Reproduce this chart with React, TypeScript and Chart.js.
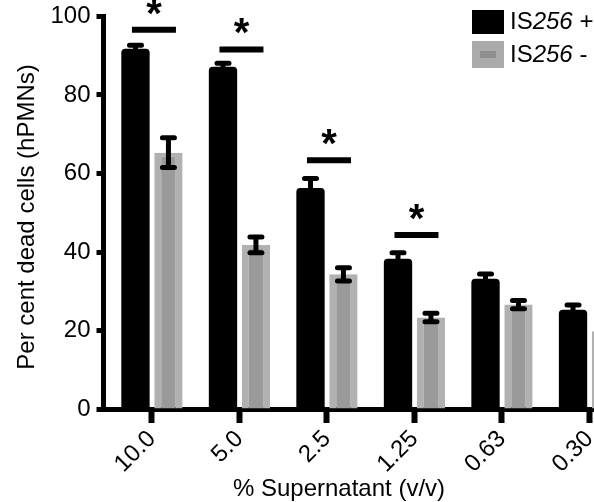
import React, { useEffect, useRef } from 'react';
import { Chart, registerables } from 'chart.js';

Chart.register(...registerables);

const FONT = "'Liberation Sans', Arial, Helvetica, sans-serif";

const categories = ['10.0', '5.0', '2.5', '1.25', '0.63', '0.30'];
const plusValues = [91.8, 87.2, 56.3, 38.3, 33.2, 25.3];
const plusErrors = [0.9, 0.9, 2.4, 1.5, 1.2, 1.2];
const minusValues = [65.3, 41.8, 34.3, 23.3, 26.6, 19.8];
const minusErrors = [3.8, 2.0, 1.7, 1.1, 1.05, 1.0];
const sigLevels: (number | null)[] = [96.6, 91.6, 63.4, 44.3, null, null];
const yTickValues = [0, 20, 40, 60, 80, 100];
const seriesNames = [
  ['IS', '256', ' +'],
  ['IS', '256', ' -'],
];
const yTitle = 'Per cent dead cells (hPMNs)';
const xTitle = '% Supernatant (v/v)';

const overlayPlugin = {
  id: 'overlay',
  afterDatasetsDraw(chart: any) {
    const ctx = chart.ctx as CanvasRenderingContext2D;
    const xs = chart.scales.x;
    const ys = chart.scales.y;
    const vals = [plusValues, minusValues];
    const errs = [plusErrors, minusErrors];
    ctx.save();
    ctx.strokeStyle = '#000';
    ctx.lineWidth = 5;
    ctx.lineCap = 'round';
    [0, 1].forEach((d) => {
      const meta = chart.getDatasetMeta(d);
      meta.data.forEach((bar: any, i: number) => {
        const x = bar.x;
        const yt = ys.getPixelForValue(vals[d][i] + errs[d][i]);
        const yb = ys.getPixelForValue(vals[d][i] - errs[d][i]);
        ctx.beginPath();
        ctx.moveTo(x, yt);
        ctx.lineTo(x, yb);
        ctx.moveTo(x - 6, yt);
        ctx.lineTo(x + 6, yt);
        ctx.moveTo(x - 6, yb);
        ctx.lineTo(x + 6, yb);
        ctx.stroke();
      });
    });
    ctx.lineCap = 'butt';
    ctx.lineWidth = 6;
    ctx.fillStyle = '#000';
    ctx.font = `bold 40px ${FONT}`;
    ctx.textAlign = 'center';
    ctx.textBaseline = 'alphabetic';
    sigLevels.forEach((lvl, i) => {
      if (lvl == null) return;
      const xc = xs.getPixelForValue(i) + 2;
      const y = ys.getPixelForValue(lvl);
      ctx.beginPath();
      ctx.moveTo(xc - 22, y);
      ctx.lineTo(xc + 22, y);
      ctx.stroke();
      const m = ctx.measureText('*');
      const asc = m.actualBoundingBoxAscent;
      const desc = m.actualBoundingBoxDescent;
      const center = y - 23;
      ctx.fillText('*', xc, center + (asc - desc) / 2);
    });
    ctx.restore();
  },
  afterDraw(chart: any) {
    const ctx = chart.ctx as CanvasRenderingContext2D;
    ctx.save();
    ctx.fillStyle = '#000';
    ctx.font = `24px ${FONT}`;
    ctx.textAlign = 'center';
    ctx.textBaseline = 'alphabetic';
    ctx.save();
    ctx.translate(33.5, 217);
    ctx.rotate(-Math.PI / 2);
    ctx.fillText(yTitle, 0, 0);
    ctx.restore();
    ctx.fillText(xTitle, 339, 496);
    const boxX = 472;
    const rows = [10, 41];
    ctx.fillStyle = '#000';
    ctx.fillRect(boxX, rows[0], 32, 24);
    ctx.fillStyle = '#aaaaaa';
    ctx.fillRect(boxX, rows[1], 32, 27);
    ctx.fillStyle = '#8e8e8e';
    ctx.fillRect(boxX + 8, rows[1] + 10, 16, 7);
    ctx.textAlign = 'left';
    ctx.fillStyle = '#000';
    const baselines = [29, 62];
    seriesNames.forEach((parts, r) => {
      let x = 510;
      parts.forEach((p, k) => {
        ctx.font = k === 1 ? `italic 24px ${FONT}` : `24px ${FONT}`;
        ctx.fillText(p, x, baselines[r]);
        x += ctx.measureText(p).width;
      });
    });
    ctx.restore();
  },
};

export default function App() {
  const canvasRef = useRef<HTMLCanvasElement | null>(null);

  useEffect(() => {
    document.body.style.margin = '0';
    document.body.style.overflow = 'hidden';
    const canvas = canvasRef.current;
    if (!canvas) return;
    const chart = new Chart(canvas, {
      type: 'bar',
      data: {
        datasets: [
          {
            label: 'IS256 +',
            data: plusValues.map((v, i) => ({ x: i, y: v })),
            backgroundColor: '#000000',
            borderWidth: 0,
            borderRadius: { topLeft: 4, topRight: 4, bottomLeft: 0, bottomRight: 0 },
            borderSkipped: 'bottom',
          },
          {
            label: 'IS256 -',
            data: minusValues.map((v, i) => ({ x: i, y: v })),
            backgroundColor: '#9a9a9a',
            borderColor: '#b1b1b1',
            borderWidth: { left: 7, right: 7, top: 4, bottom: 0 },
            borderSkipped: 'bottom',
          },
        ],
      },
      options: {
        responsive: false,
        animation: false,
        devicePixelRatio: 1,
        categoryPercentage: 0.753,
        barPercentage: 0.86,
        layout: { padding: { top: 16.5, right: 38, left: 0, bottom: 0 } },
        plugins: {
          legend: { display: false },
          tooltip: { enabled: false },
          title: { display: false },
        },
        scales: {
          x: {
            type: 'linear',
            min: -0.5537,
            max: 5.6,
            offset: false,
            grid: {
              offset: false,
              drawOnChartArea: false,
              drawTicks: true,
              tickLength: 14,
              tickWidth: 6,
              tickColor: '#000',
            },
            border: { display: true, width: 5, color: '#000' },
            afterBuildTicks: (s: any) => {
              s.ticks = categories.map((_, i) => ({ value: i }));
            },
            afterFit: (s: any) => {
              s.height = 93;
            },
            ticks: {
              autoSkip: false,
              minRotation: 45,
              maxRotation: 45,
              padding: 2,
              color: '#000',
              font: { family: FONT, size: 24 },
              callback: (v: any) => categories[Math.round(Number(v))] ?? '',
            },
          },
          y: {
            type: 'linear',
            min: 0,
            max: 100,
            afterBuildTicks: (s: any) => {
              s.ticks = yTickValues.map((v) => ({ value: v }));
            },
            afterFit: (s: any) => {
              s.width = 103.5;
              s.paddingTop = 0;
              s.paddingBottom = 0;
            },
            grid: {
              drawOnChartArea: false,
              drawTicks: true,
              tickLength: 7,
              tickWidth: 5,
              tickColor: '#000',
            },
            border: { display: true, width: 5, color: '#000' },
            ticks: {
              padding: 6,
              color: '#000',
              font: { family: FONT, size: 24, lineHeight: 1 },
            },
          },
        },
      } as any,
      plugins: [overlayPlugin],
    });
    return () => chart.destroy();
  }, []);

  return (
    <div style={{ width: 594, height: 502, overflow: 'hidden', position: 'relative', background: '#fff' }}>
      <canvas ref={canvasRef} width={680} height={502} style={{ display: 'block', width: 680, height: 502 }} />
    </div>
  );
}
